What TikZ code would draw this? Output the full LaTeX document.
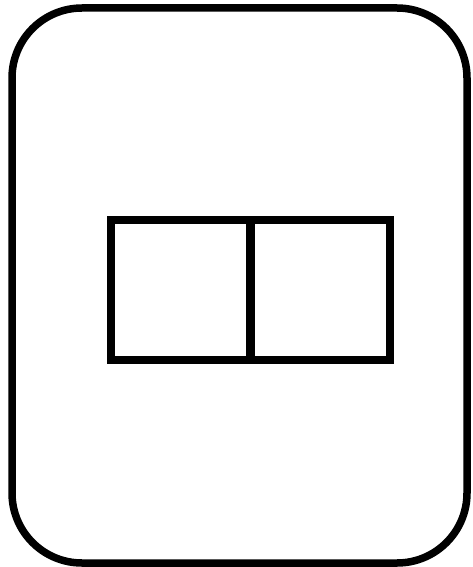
\documentclass[tikz,border=0pt]{standalone}
\begin{document}
\begin{tikzpicture}[x=1pt,y=-1pt,
  frame/.style={draw=black,line width=7.5pt,rounded corners=70pt},
  cell/.style={draw=black,line width=8pt,minimum width=139pt,minimum height=140pt,inner sep=0pt,outer sep=0pt}]
\useasboundingbox (0,0) rectangle (472,567);
\draw[frame] (12,8) rectangle (467,563);
\node[cell] (left) at (180.5,290) {};
\node[cell] (right) at (320,290) {};
\end{tikzpicture}
\end{document}
